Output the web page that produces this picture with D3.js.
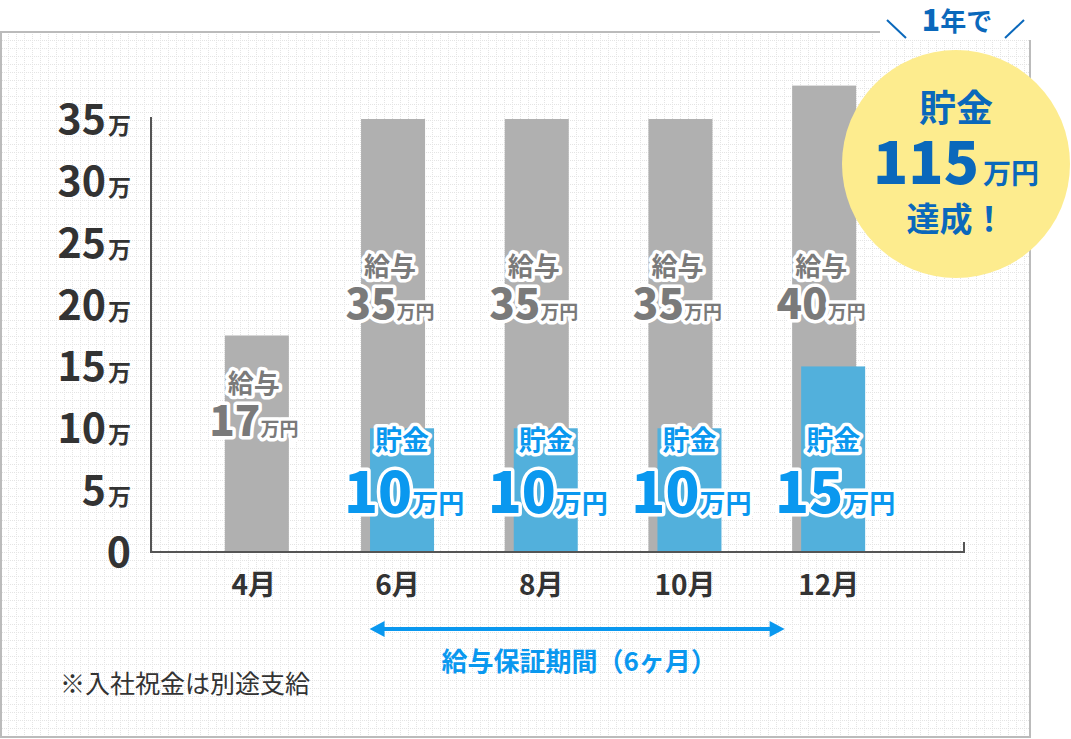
<!doctype html>
<html>
<head>
  <meta charset="utf-8">
  <script src="https://d3js.org/d3.v7.min.js"></script>
  <style>
    body { margin: 0; background: #fff; }
    text { font-family: "Noto Sans CJK JP", "Noto Sans", sans-serif; }
  </style>
</head>
<body>
<div id="chart"></div>
<script>
// data
var months = ["4月", "6月", "8月", "10月", "12月"];
var salary = [17, 35, 35, 35, 40];          // label values (万円)
var salaryBar = [17.5, 35, 35, 35, 37.7];   // drawn bar heights
var savings = [0, 10, 10, 10, 15];           // 貯金 (万円)
var yTicks = [0, 5, 10, 15, 20, 25, 30, 35];
var totalSavings = 115;

var W = 1071, H = 739;
var grayCol = "#b0b0b0", blueBar = "#52b0dc", blueTxt = "#0a98ef", navy = "#0a68bb";

var svg = d3.select("#chart").append("svg")
    .attr("width", W).attr("height", H)
    .attr("font-weight", 700);

// dotted grid background
var defs = svg.append("defs");
var pat = defs.append("pattern").attr("id", "grid")
    .attr("width", 8).attr("height", 8).attr("patternUnits", "userSpaceOnUse");
pat.append("rect").attr("width", 8).attr("height", 8).attr("fill", "#fff");
pat.append("line").attr("x1", 0).attr("y1", 0.5).attr("x2", 8).attr("y2", 0.5)
    .attr("stroke", "#e4e4e4").attr("stroke-dasharray", "1,1");
pat.append("line").attr("x1", 0.5).attr("y1", 0).attr("x2", 0.5).attr("y2", 8)
    .attr("stroke", "#e4e4e4").attr("stroke-dasharray", "1,1");

svg.append("rect").attr("x", 1).attr("y", 32).attr("width", 1029).attr("height", 705)
    .attr("fill", "url(#grid)").attr("stroke", "#bbb").attr("stroke-width", 2);

// scales
var y = d3.scaleLinear().domain([0, 35]).range([552, 119]);
var x = d3.scaleBand().domain(months).range([182, 900.5]);
function cx(m) { return x(m) + x.bandwidth() / 2; }
var barW = 64;

// bars
var g = svg.append("g");
months.forEach(function(m, i) {
  var gx = savings[i] > 0 ? cx(m) - 36.5 : cx(m) - barW / 2 + 3;
  g.append("rect").attr("x", gx).attr("y", y(salaryBar[i]))
    .attr("width", barW).attr("height", y(0) - y(salaryBar[i])).attr("fill", grayCol);
  if (savings[i] > 0) {
    g.append("rect").attr("x", gx + 9).attr("y", y(savings[i]))
      .attr("width", barW).attr("height", y(0) - y(savings[i])).attr("fill", blueBar);
  }
});

// axes
svg.append("path").attr("d", "M151,117V552H964V542")
  .attr("fill", "none").attr("stroke", "#555").attr("stroke-width", 2);

var yl = svg.append("g");
yTicks.forEach(function(t) {
  var tx = yl.append("text").attr("x", 131).attr("y", y(t) + 15)
    .attr("text-anchor", "end").attr("fill", "#333");
  tx.append("tspan").attr("font-size", 41).text(t);
  if (t > 0) tx.append("tspan").attr("font-size", 23).attr("dx", 2).text("万");
});

svg.append("g").selectAll("text").data(months).join("text")
  .attr("x", function(d) { return cx(d); }).attr("y", 595)
  .attr("text-anchor", "middle").attr("font-size", 28).attr("fill", "#333")
  .text(function(d) { return d; });

// bar labels with white halo
function halo(sel) {
  return sel.attr("stroke", "#fff").attr("stroke-width", 7)
    .attr("stroke-linejoin", "round").attr("paint-order", "stroke");
}
months.forEach(function(m, i) {
  var gx = savings[i] > 0 ? cx(m) - 36.5 : cx(m) - barW / 2 + 3;
  var sc = gx + barW / 2 - 3;
  var lv = Math.min(salary[i] * 0.8, 23);
  halo(svg.append("text").attr("x", sc).attr("y", y(lv) + 9)
    .attr("text-anchor", "middle").attr("font-size", 26).attr("fill", "#7a7a7a").text("給与"));
  var t = halo(svg.append("text").attr("x", sc).attr("y", y(lv) + 52)
    .attr("text-anchor", "middle").attr("fill", "#7a7a7a"));
  t.append("tspan").attr("font-size", 42).attr("font-weight", 900).text(salary[i]);
  t.append("tspan").attr("font-size", 19).text("万円");

  if (savings[i] > 0) {
    var bc = gx + 9 + barW / 2;
    halo(svg.append("text").attr("x", bc).attr("y", y(9) + 9)
      .attr("text-anchor", "middle").attr("font-size", 27).attr("fill", blueTxt).text("貯金"));
    var s = halo(svg.append("text").attr("x", bc + 2).attr("y", y(9) + 72)
      .attr("text-anchor", "middle").attr("fill", blueTxt));
    s.append("tspan").attr("font-size", 56).attr("font-weight", 900).text(savings[i]);
    s.append("tspan").attr("font-size", 26).text("万円");
  }
});

// guarantee period arrow
var ax0 = cx("6月") - 28, ax1 = cx("12月") - 44, ay = 629;
svg.append("line").attr("x1", ax0 + 10).attr("x2", ax1 - 10).attr("y1", ay).attr("y2", ay)
  .attr("stroke", blueTxt).attr("stroke-width", 4);
svg.append("path").attr("d", "M" + ax0 + "," + ay + "l15,-8v16z").attr("fill", blueTxt);
svg.append("path").attr("d", "M" + ax1 + "," + ay + "l-15,-8v16z").attr("fill", blueTxt);
svg.append("text").attr("x", (ax0 + ax1) / 2 + 2).attr("y", 671)
  .attr("text-anchor", "middle").attr("font-size", 26).attr("fill", blueTxt)
  .text("給与保証期間（6ヶ月）");

// footnote
svg.append("text").attr("x", 60).attr("y", 693).attr("font-size", 25)
  .attr("font-weight", 400).attr("fill", "#333").text("※入社祝金は別途支給");

// badge
var bx = 956, by = 164;
svg.append("circle").attr("cx", bx).attr("cy", by).attr("r", 114).attr("fill", "#fdec8e");
svg.append("rect").attr("x", 880).attr("y", 4).attr("width", 152).attr("height", 36).attr("fill", "#fff");
var yr = svg.append("text").attr("x", bx + 1).attr("y", 31).attr("text-anchor", "middle")
  .attr("fill", navy);
yr.append("tspan").attr("font-size", 30).attr("font-weight", 900).text("1");
yr.append("tspan").attr("font-size", 26).text("年で");
svg.append("line").attr("x1", 887).attr("y1", 20).attr("x2", 906).attr("y2", 38)
  .attr("stroke", navy).attr("stroke-width", 2);
svg.append("line").attr("x1", 1024).attr("y1", 20).attr("x2", 1005).attr("y2", 38)
  .attr("stroke", navy).attr("stroke-width", 2);
svg.append("text").attr("x", bx).attr("y", 122).attr("text-anchor", "middle")
  .attr("font-size", 37).attr("fill", navy).text("貯金");
var bt = svg.append("text").attr("x", bx).attr("y", 184).attr("text-anchor", "middle").attr("fill", navy);
bt.append("tspan").attr("font-size", 58).attr("font-weight", 900).text(totalSavings);
bt.append("tspan").attr("font-size", 28).attr("dx", 4).text("万円");
svg.append("text").attr("x", bx).attr("y", 231).attr("text-anchor", "middle")
  .attr("font-size", 33).attr("fill", navy).text("達成！");
</script>
</body>
</html>
